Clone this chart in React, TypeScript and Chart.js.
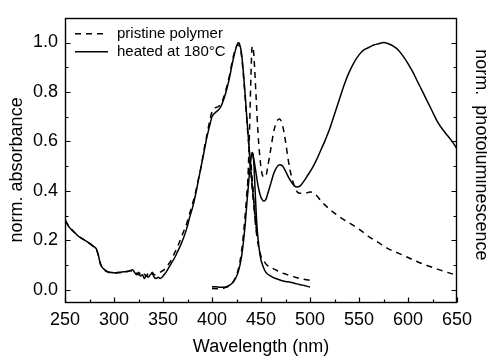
import React, { useEffect, useRef } from "react";
import { Chart, registerables } from "chart.js";

Chart.register(...registerables);

// ---- Data ----
const legendLabels = ["pristine polymer", "heated at 180°C"];
const xTitle = "Wavelength (nm)";
const yTitle = "norm. absorbance";
const y2Title = "norm.  photoluminescence";

// absorbance spectra
const absX = [250, 253, 256, 260, 264, 268, 272, 276, 279, 282, 284, 286, 288, 290, 293, 296, 300, 305, 310, 314, 317, 319, 321, 323, 325, 327, 329, 331, 333, 335, 337, 339, 341, 343, 345, 347, 349, 351, 353, 356, 359, 362, 365, 368, 371, 374, 377, 380, 383, 386, 389, 392, 395, 398, 400, 403, 406, 409, 412, 415, 418, 421, 424, 426, 427, 428, 430, 432, 434, 436, 438, 440, 442, 444, 446];
const absPristine = [0.28, 0.262, 0.247, 0.23, 0.216, 0.205, 0.195, 0.184, 0.174, 0.162, 0.14, 0.108, 0.09, 0.08, 0.072, 0.068, 0.066, 0.068, 0.072, 0.074, 0.076, 0.072, 0.075, 0.065, 0.06, 0.068, 0.058, 0.062, 0.055, 0.065, 0.058, 0.07, 0.06, 0.062, 0.065, 0.07, 0.075, 0.08, 0.09, 0.105, 0.125, 0.15, 0.175, 0.205, 0.235, 0.265, 0.305, 0.345, 0.39, 0.445, 0.5, 0.57, 0.63, 0.69, 0.72, 0.735, 0.74, 0.75, 0.78, 0.82, 0.87, 0.93, 0.975, 0.99, 0.99, 0.985, 0.95, 0.87, 0.77, 0.66, 0.56, 0.46, 0.37, 0.29, 0.22];
const absHeated = [0.285, 0.26, 0.245, 0.23, 0.215, 0.205, 0.195, 0.185, 0.175, 0.165, 0.14, 0.105, 0.09, 0.082, 0.074, 0.07, 0.068, 0.07, 0.072, 0.073, 0.078, 0.08, 0.07, 0.06, 0.07, 0.055, 0.06, 0.045, 0.058, 0.05, 0.06, 0.065, 0.05, 0.045, 0.05, 0.045, 0.05, 0.06, 0.07, 0.09, 0.11, 0.13, 0.155, 0.18, 0.21, 0.245, 0.29, 0.33, 0.38, 0.44, 0.5, 0.56, 0.62, 0.67, 0.7, 0.715, 0.725, 0.74, 0.77, 0.81, 0.86, 0.92, 0.97, 0.995, 1.0, 0.995, 0.96, 0.88, 0.78, 0.67, 0.57, 0.47, 0.38, 0.3, 0.23];

// narrow emission band 400-500 nm
const narrowPristineX = [400, 404, 408, 412, 415, 418, 421, 424, 427, 430, 432, 434, 436, 438, 439, 440, 441, 442, 443, 444, 446, 448, 450, 453, 456, 460, 465, 470, 475, 480, 485, 490, 495, 500];
const narrowPristine = [0.005, 0.004, 0.004, 0.006, 0.01, 0.016, 0.028, 0.05, 0.085, 0.15, 0.22, 0.31, 0.41, 0.5, 0.53, 0.5, 0.45, 0.4, 0.34, 0.28, 0.21, 0.165, 0.135, 0.115, 0.1, 0.09, 0.08, 0.07, 0.063, 0.056, 0.05, 0.045, 0.041, 0.038];
const narrowHeatedX = [400, 404, 408, 412, 415, 418, 421, 424, 427, 430, 432, 434, 436, 438, 440, 441, 442, 443, 444, 445, 446, 448, 450, 452, 455, 460, 465, 470, 475, 480, 485, 490, 495, 500];
const narrowHeated = [0.012, 0.012, 0.01, 0.01, 0.012, 0.018, 0.028, 0.045, 0.075, 0.13, 0.19, 0.27, 0.37, 0.46, 0.535, 0.555, 0.545, 0.49, 0.4, 0.32, 0.25, 0.17, 0.12, 0.095, 0.07, 0.055, 0.045, 0.038, 0.033, 0.03, 0.025, 0.02, 0.016, 0.01];

// photoluminescence spectra
const plPristineX = [436, 438, 440, 441, 442, 443, 445, 447, 449, 451, 453, 455, 457, 460, 463, 466, 469, 472, 475, 478, 481, 484, 487, 490, 495, 500, 504, 508, 512, 516, 520, 525, 530, 540, 550, 560, 570, 580, 590, 600, 610, 620, 630, 640, 650];
const plPristine = [0.38, 0.6, 0.9, 0.985, 0.98, 0.93, 0.78, 0.63, 0.53, 0.47, 0.455, 0.46, 0.5, 0.57, 0.64, 0.68, 0.69, 0.665, 0.6, 0.52, 0.46, 0.42, 0.395, 0.39, 0.39, 0.395, 0.39, 0.375, 0.355, 0.34, 0.325, 0.31, 0.295, 0.27, 0.245, 0.215, 0.19, 0.165, 0.148, 0.13, 0.112, 0.097, 0.083, 0.07, 0.058];
const plHeatedX = [441, 443, 445, 447, 449, 451, 453, 455, 457, 460, 463, 466, 469, 472, 475, 478, 481, 484, 487, 490, 494, 498, 502, 506, 510, 515, 520, 525, 530, 535, 540, 545, 550, 555, 560, 565, 570, 575, 580, 585, 590, 595, 600, 605, 610, 615, 620, 625, 630, 635, 640, 645, 650];
const plHeated = [0.555, 0.52, 0.47, 0.42, 0.385, 0.365, 0.358, 0.365, 0.39, 0.43, 0.47, 0.495, 0.505, 0.5, 0.48, 0.455, 0.435, 0.42, 0.415, 0.42, 0.44, 0.465, 0.49, 0.52, 0.555, 0.6, 0.65, 0.71, 0.77, 0.83, 0.88, 0.92, 0.95, 0.97, 0.98, 0.99, 0.995, 1.0, 0.995, 0.985, 0.97, 0.945, 0.915, 0.88, 0.84, 0.8, 0.76, 0.72, 0.68, 0.65, 0.625, 0.6, 0.57];

const FONT = "'Liberation Sans', Arial, Helvetica, sans-serif";
const DASH = [6, 5];

function pts(xs: number[], ys: number[]) {
  return xs.map((x, i) => ({ x, y: ys[i] }));
}

function ds(xs: number[], ys: number[], dashed: boolean) {
  return {
    data: pts(xs, ys),
    borderColor: "#000",
    borderWidth: 1.5,
    borderDash: dashed ? DASH : [],
    pointRadius: 0,
    fill: false,
    cubicInterpolationMode: "monotone" as const,
  };
}

const framePlugin = {
  id: "frameTicksLegend",
  afterDraw(chart: any) {
    const { ctx, chartArea: a, scales } = chart;
    ctx.save();
    ctx.strokeStyle = "#000";
    ctx.lineWidth = 1.4;
    ctx.setLineDash([]);
    ctx.strokeRect(Math.round(a.left) + 0.5, Math.round(a.top) + 0.5, Math.round(a.right - a.left) - 1, Math.round(a.bottom - a.top));

    const sx = scales.x;
    const sy = scales.y;
    const xMaj = sx.ticks.map((t: any) => t.value);
    const yMaj = sy.ticks.map((t: any) => t.value);
    const minors = (arr: number[]) => {
      const out: number[] = [];
      for (let i = 0; i < arr.length - 1; i++) out.push((arr[i] + arr[i + 1]) / 2);
      return out;
    };
    const xMin = minors(xMaj);
    const yMin = minors(yMaj);
    const bottom = Math.round(a.bottom) + 0.5;
    const left = Math.round(a.left) + 0.5;
    const right = Math.round(a.right) - 0.5;
    ctx.lineWidth = 1.2;
    ctx.beginPath();
    const xt = (v: number, len: number) => {
      const px = Math.round(sx.getPixelForValue(v)) + 0.5;
      ctx.moveTo(px, bottom);
      ctx.lineTo(px, bottom - len);
    };
    const yt = (v: number, len: number) => {
      const py = Math.round(sy.getPixelForValue(v)) + 0.5;
      ctx.moveTo(left, py);
      ctx.lineTo(left + len, py);
      ctx.moveTo(right, py);
      ctx.lineTo(right - len, py);
    };
    xMaj.forEach((v: number) => xt(v, 5));
    xMin.forEach((v: number) => xt(v, 3));
    yMaj.forEach((v: number) => yt(v, 5));
    yMin.forEach((v: number) => yt(v, 3));
    ctx.stroke();

    // legend
    const lx0 = a.left + 10;
    const lx1 = a.left + 43;
    const tx = a.left + 52;
    const rows = [a.top + 16, a.top + 34];
    ctx.font = `15px ${FONT}`;
    ctx.fillStyle = "#000";
    ctx.textBaseline = "middle";
    ctx.textAlign = "left";
    legendLabels.forEach((label, i) => {
      ctx.beginPath();
      ctx.lineWidth = 1.5;
      ctx.setLineDash(i === 0 ? DASH : []);
      ctx.moveTo(lx0, rows[i]);
      ctx.lineTo(lx1, rows[i]);
      ctx.stroke();
      ctx.fillText(label, tx, rows[i]);
    });
    ctx.restore();
  },
};

export default function App() {
  const ref = useRef<HTMLCanvasElement>(null);
  useEffect(() => {
    document.body.style.margin = "0";
    const canvas = ref.current!;
    const chart = new Chart(canvas, {
      type: "line",
      data: {
        datasets: [
          ds(absX, absPristine, true),
          ds(absX, absHeated, false),
          ds(narrowPristineX, narrowPristine, true),
          ds(narrowHeatedX, narrowHeated, false),
          ds(plPristineX, plPristine, true),
          ds(plHeatedX, plHeated, false),
        ],
      },
      options: {
        responsive: false,
        animation: false,
        devicePixelRatio: 1,
        layout: { padding: { top: 9, left: 0, right: 0, bottom: 0 } },
        plugins: { legend: { display: false }, tooltip: { enabled: false } },
        scales: {
          x: {
            type: "linear",
            min: 250,
            max: 650,
            grid: { display: false, drawTicks: false },
            border: { display: false },
            ticks: {
              stepSize: 50,
              padding: 7,
              color: "#000",
              font: { family: FONT, size: 18 },
              maxRotation: 0,
            },
            title: {
              display: true,
              text: xTitle,
              color: "#000",
              font: { family: FONT, size: 18 },
              padding: { top: 0, bottom: 0 },
            },
            afterFit: (s: any) => {
              s.height = 56;
            },
          },
          y: {
            type: "linear",
            position: "left",
            min: -0.05,
            max: 1.1,
            grid: { display: false, drawTicks: false },
            border: { display: false },
            ticks: {
              stepSize: 0.2,
              includeBounds: false,
              padding: 7,
              color: "#000",
              font: { family: FONT, size: 18 },
              callback: (v: any) => Number(v).toFixed(1),
            },
            title: {
              display: true,
              text: yTitle + "    ",
              color: "#000",
              font: { family: FONT, size: 18 },
              padding: { top: 6, bottom: 0 },
            },
            afterFit: (s: any) => {
              s.width = 65;
            },
          },
          y2: {
            type: "linear",
            position: "right",
            min: -0.05,
            max: 1.1,
            grid: { display: false, drawTicks: false },
            border: { display: false },
            ticks: { display: false },
            title: {
              display: true,
              text: y2Title + "  ",
              color: "#000",
              font: { family: FONT, size: 18 },
              padding: { top: -5, bottom: 0 },
            },
            afterFit: (s: any) => {
              s.width = 30;
            },
          },
        },
      },
      plugins: [framePlugin],
    });
    return () => chart.destroy();
  }, []);
  return (
    <div style={{ width: 487, height: 358 }}>
      <canvas ref={ref} width={487} height={358} style={{ display: "block" }} />
    </div>
  );
}
